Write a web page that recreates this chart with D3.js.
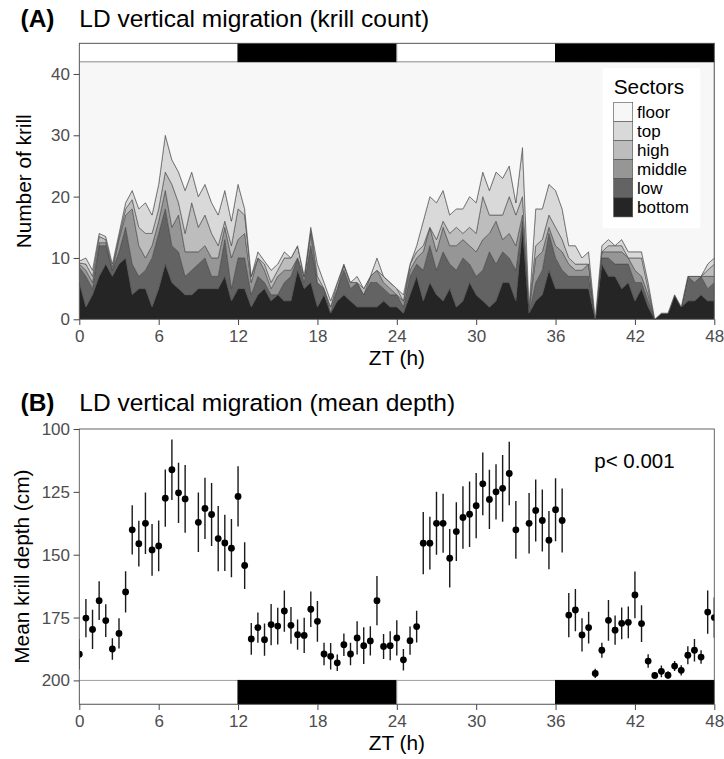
<!DOCTYPE html>
<html><head><meta charset="utf-8">
<script src="https://cdn.jsdelivr.net/npm/d3@7"></script>
<style>body{margin:0;background:#fff;} text{font-family:"Liberation Sans",Arial,Helvetica,sans-serif;}</style>
</head><body><svg id="c" width="724" height="759"></svg>
<script>
// ---------- Panel A data (krill count per sector, half-hourly) ----------
const hoursA = [0,0.5,1,1.5,2,2.5,3,3.5,4,4.5,5,5.5,6,6.5,7,7.5,8,8.5,9,9.5,10,10.5,11,11.5,12,12.5,13,13.5,14,14.5,15,15.5,16,16.5,17,17.5,18,18.5,19,19.5,20,20.5,21,21.5,22,22.5,23,23.5,24,24.5,25,25.5,26,26.5,27,27.5,28,28.5,29,29.5,30,30.5,31,31.5,32,32.5,33,33.5,34,34.5,35,35.5,36,36.5,37,37.5,38,38.5,39,39.5,40,40.5,41,41.5,42,42.5,43,43.5,44,44.5,45,45.5,46,46.5,47,47.5,48];
const sectorBottom = [6,2,4,7,9,7,9,10,4,5, 5,2,5,9,6,5,4,4,5,5, 5,5,7,3,5,5,2,4,5,3, 4,3,3,8,5,6,2,4,1,3, 4,3,2,2,2,2,3,2,2,1, 4,7,3,6,4,3,5,2,3,6, 4,3,2,3,6,6,3,15,1,3, 4,8,5,5,5,5,5,5,0,9, 7,7,5,6,3,5,2,0,1,1, 4,2,3,3,4,3,3];
const sectorLow    = [2.5,5,1,5,3,1,2,5,5,2, 3,8,9,9,6,6,3,4,4,5, 2,2,6,2,5,5,2,3,1,1, 0,3,4,2,1,6,4,1,0,2, 4,2,4,2,4,4,2,2,2,1, 3,2,5,6,4,8,4,6,7,3, 3,5,9,6,5,4,5,1,0,3, 4,6,5,3,2,2,2,2,0,1, 3,2,4,3,3,1,1,0,0,0, 0,0,4,3,3,2,3];
const sectorMiddle = [0.5,1,1,0.5,0.5,0,2,2,9,5, 2,2,2,3,3,6,4,3,2,2, 3,3,2,5,3,4,2,3,2,1, 3,2,1,0,1,2,0,0,1,0, 1,1,0,0,1,2,1,1,0,1, 1,1,3,3,3,4,3,4,3,3, 4,5,3,7,2,4,4,1,0.5,4, 3,1,2,3,2,1,1,2,0,1, 1,2,2,1,2,1,1,0,0,0, 0,0,0,1,0,2,1];
const sectorHigh   = [0.2,1,1,1,0.5,0.5,0.5,1,1.5,3, 4,2,2,3,7,2,3,8,4,5, 4,2,1,2,5,3,1,0,1,1, 1,2,2,2,0,1,1,0,0,1, 0,0,0,1,0,0,1,1,1,0, 1,1,1,0,2,1,2,3,1,3, 3,7,3,1,4,6,5,3,0.5,2, 2,2,3,2,1,1,1,0,0,0, 1,1,1,0,2,3,1,0,0,0, 0,0,0,0,0,1,2];
const sectorTop    = [0.3,1,1,0.5,0.5,0.5,0.5,1,1.5,3, 5,3,4,6,4,5,7,5,5,5, 5,5,5,4,4,1,0,1,0.5,2, 1,1,0,0,0,0,2,1,1,0, 0,0,1,0,0,2,0,0,0,1, 0,1,4,5,6,5,3,3,4,5, 5,4,4,7,6,5,2,8,0,6, 5,5,6,5,2,3,1,2,0,1, 1,0,1,1,1,1,1,0,0,0, 0,0,0,0,0,1,1];
const totalKrill = 42;
const sectorKeys   = ["bottom","low","middle","high","top","floor"];
const sectorLabels = ["floor","top","high","middle","low","bottom"];
const sectorColors = {floor:"#f7f7f7", top:"#d9d9d9", high:"#bdbdbd", middle:"#969696", low:"#636363", bottom:"#252525"};

// ---------- Panel B data (mean depth +- error) ----------
const hoursB = [0,0.5,1,1.5,2,2.5,3,3.5,4,4.5,5,5.5,6,6.5,7,7.5,8,9,9.5,10,10.5,11,11.5,12,12.5,13,13.5,14,14.5,15,15.5,16,16.5,17,17.5,18,18.5,19,19.5,20,20.5,21,21.5,22,22.5,23,23.5,24,24.5,25,25.5,26,26.5,27,27.5,28,28.5,29,29.5,30,30.5,31,31.5,32,32.5,33,34,34.5,35,35.5,36,36.5,37,37.5,38,38.5,39,39.5,40,40.5,41,41.5,42,42.5,43,43.5,44,44.5,45,45.5,46,46.5,47,47.5,48];
const depthMean = [189.6,175.2,179.7,168.3,176.2,187.5,181.3,164.8,140.1,145.6,137.5,148.1,146.5,127.5,116.2,125.4,127.8,137.1,131.6,134,143.6,145.3,147.4,126.8,154.3,183.5,179,183.8,177.8,178.4,172.4,178.1,181.8,182.1,171.7,176.5,189.5,190.4,193,185.8,189.5,183.1,186.2,184.3,168.3,186.5,186.2,183.1,191.8,184.2,178.6,145.4,145.4,137.5,137.5,151.4,140.8,135.2,133.9,130.5,121.8,128,125,123.6,117.7,140.1,137.5,132.4,136.4,144.2,132.1,136.4,174,172,181.9,179,197.2,188,176.1,180,177.3,176.9,166,177.4,192.3,198,196.4,197.9,194.3,196,190,188,190.7,172.8,175];
const depthErr  = [6,7.6,7.8,7.7,6.5,4.3,6,8.2,9.8,9.1,12.2,10.3,10.1,11.4,12,12,13.5,11.8,12.2,12.5,13,11.2,11.6,12,9.3,6.3,6,6.4,8.2,7.3,8.2,7.3,6,7,7.1,8.1,4.5,5.3,3.3,4.5,4.5,6.6,7.3,5.8,9.8,5,5.8,7,4.3,5.6,6.3,12.4,10.5,12.5,11.7,11.6,11.7,12.4,13,13,12.5,11.8,11,13.3,12.6,11.5,12,12.3,12.3,11.6,12.5,12.7,8.8,8.4,6.6,6.3,1.8,3,8.1,5.8,6.3,6.3,9.3,7.3,2.7,1.3,2.3,1.5,2,2,3.6,4.5,2.7,8.6,8];

// ---------- Light/dark schedule & ticks ----------
const phaseStart = [0,12,24,36];
const phaseEnd   = [12,24,36,48];
const phaseType  = ["light","dark","light","dark"];
const xTicks = [0,6,12,18,24,30,36,42,48];
const yTicksA = [0,10,20,30,40];
const yTicksB = [100,125,150,175,200];

(function(){
// ---------- Layout ----------
const svg = d3.select("#c");
const PL = 79.3, PR = 714.3;
const A = {top:43.3, bottom:319.3};
const B = {top:429, bottom:704.3};
const xA = d3.scaleLinear().domain([0,48]).range([PL,PR]);
const yA = d3.scaleLinear().domain([0,45]).range([A.bottom,A.top]);
const xB = d3.scaleLinear().domain([0,48]).range([PL,PR]);
const yB = d3.scaleLinear().domain([100,209.5]).range([B.top,B.bottom]);
const labelGrey = "#4d4d4d";

const defs = svg.append("defs");
defs.append("clipPath").attr("id","clipA").append("rect")
  .attr("x",PL).attr("y",A.top).attr("width",PR-PL).attr("height",A.bottom-A.top);
defs.append("clipPath").attr("id","clipB").append("rect")
  .attr("x",PL).attr("y",B.top).attr("width",PR-PL).attr("height",B.bottom-B.top);

// ---------- Panel A ----------
const rows = hoursA.map((h,i)=>{
  const s = sectorBottom[i]+sectorLow[i]+sectorMiddle[i]+sectorHigh[i]+sectorTop[i];
  return {h, bottom:sectorBottom[i], low:sectorLow[i], middle:sectorMiddle[i], high:sectorHigh[i], top:sectorTop[i], floor: totalKrill - s};
});
const series = d3.stack().keys(sectorKeys)(rows);
const area = d3.area().x(d=>xA(d.data.h)).y0(d=>yA(d[0])).y1(d=>yA(d[1]));
const gA = svg.append("g").attr("clip-path","url(#clipA)");
gA.selectAll("path.layer").data(series).join("path")
  .attr("class","layer")
  .attr("d",area)
  .attr("fill",d=>sectorColors[d.key])
  .attr("stroke","#4a4a4a").attr("stroke-width",0.6).attr("stroke-linejoin","round");

gA.selectAll("rect.ld").data(phaseStart).join("rect")
  .attr("class","ld")
  .attr("x",(d)=>xA(d)).attr("width",(d,i)=>xA(phaseEnd[i])-xA(d))
  .attr("y",yA(45)).attr("height",yA(totalKrill)-yA(45))
  .attr("fill",(d,i)=>phaseType[i]==="light"?"#ffffff":"#000000")
  .attr("stroke",(d,i)=>phaseType[i]==="light"?"#a0a0a0":"#000000").attr("stroke-width",1);

svg.append("rect").attr("x",PL).attr("y",A.top).attr("width",PR-PL).attr("height",A.bottom-A.top)
  .attr("fill","none").attr("stroke","#555").attr("stroke-width",0.9);

function styleAxis(g){
  g.select(".domain").remove();
  g.selectAll(".tick line").attr("stroke","#444").attr("stroke-width",1);
  g.selectAll(".tick text").attr("fill",labelGrey).style("font-size","17px")
    .style("font-family","'Liberation Sans',Arial,sans-serif");
}
svg.append("g").attr("transform",`translate(0,${A.bottom})`)
  .call(d3.axisBottom(xA).tickValues(xTicks).tickSize(5.7).tickPadding(5.1)).call(styleAxis);
svg.append("g").attr("transform",`translate(${PL},0)`)
  .call(d3.axisLeft(yA).tickValues(yTicksA).tickSize(5.7).tickPadding(3.6)).call(styleAxis);

const lg = svg.append("g");
lg.append("rect").attr("x",602.7).attr("y",68.3).attr("width",97.6).attr("height",160).attr("fill","#ffffff");
lg.append("text").attr("x",613.7).attr("y",94.3).text("Sectors").style("font-size","20.8px").attr("fill","#000");
sectorLabels.forEach((k,i)=>{
  lg.append("rect").attr("x",613.7).attr("y",102.3+i*19.1).attr("width",19).attr("height",19.1)
    .attr("fill",sectorColors[k]).attr("stroke","#4a4a4a").attr("stroke-width",0.6);
  lg.append("text").attr("x",637).attr("y",102.3+i*19.1+9.55).attr("dy","0.36em")
    .text(k).style("font-size","17px").attr("fill","#000");
});

svg.append("text").attr("x",20.5).attr("y",26.8).text("(A)").style("font-size","24.5px").style("font-weight","bold");
svg.append("text").attr("x",79.3).attr("y",26.8).text("LD vertical migration (krill count)").style("font-size","24.5px");
svg.append("text").attr("x",(PL+PR)/2).attr("y",365).attr("text-anchor","middle").text("ZT (h)").style("font-size","20.8px");
svg.append("text").attr("transform",`translate(30.5,${(A.top+A.bottom)/2}) rotate(-90)`).attr("text-anchor","middle")
  .text("Number of krill").style("font-size","20.8px");

// ---------- Panel B ----------
const gB = svg.append("g").attr("clip-path","url(#clipB)");
gB.selectAll("rect.ld").data(phaseStart).join("rect")
  .attr("class","ld")
  .attr("x",(d)=>xB(d)).attr("width",(d,i)=>xB(phaseEnd[i])-xB(d))
  .attr("y",yB(200)).attr("height",yB(209.5)-yB(200))
  .attr("fill",(d,i)=>phaseType[i]==="light"?"#ffffff":"#000000")
  .attr("stroke",(d,i)=>phaseType[i]==="light"?"#a0a0a0":"#000000").attr("stroke-width",1);
gB.selectAll("line.err").data(hoursB).join("line")
  .attr("class","err")
  .attr("x1",d=>xB(d)).attr("x2",d=>xB(d))
  .attr("y1",(d,i)=>yB(depthMean[i]-depthErr[i])).attr("y2",(d,i)=>yB(depthMean[i]+depthErr[i]))
  .attr("stroke","#1a1a1a").attr("stroke-width",1.4);
gB.selectAll("circle.pt").data(hoursB).join("circle")
  .attr("class","pt")
  .attr("cx",d=>xB(d)).attr("cy",(d,i)=>yB(depthMean[i])).attr("r",3.4).attr("fill","#000");

svg.append("rect").attr("x",PL).attr("y",B.top).attr("width",PR-PL).attr("height",B.bottom-B.top)
  .attr("fill","none").attr("stroke","#555").attr("stroke-width",0.9);
svg.append("g").attr("transform",`translate(0,${B.bottom})`)
  .call(d3.axisBottom(xB).tickValues(xTicks).tickSize(5.7).tickPadding(5.1)).call(styleAxis);
svg.append("g").attr("transform",`translate(${PL},0)`)
  .call(d3.axisLeft(yB).tickValues(yTicksB).tickSize(5.7).tickPadding(3.6)).call(styleAxis);

svg.append("text").attr("x",594.3).attr("y",467.7).text("p< 0.001").style("font-size","20.5px");
svg.append("text").attr("x",20.5).attr("y",410.5).text("(B)").style("font-size","24.5px").style("font-weight","bold");
svg.append("text").attr("x",79.3).attr("y",410.5).text("LD vertical migration (mean depth)").style("font-size","24.5px");
svg.append("text").attr("x",(PL+PR)/2).attr("y",750).attr("text-anchor","middle").text("ZT (h)").style("font-size","20.8px");
svg.append("text").attr("transform",`translate(28.5,${(B.top+B.bottom)/2}) rotate(-90)`).attr("text-anchor","middle")
  .text("Mean krill depth (cm)").style("font-size","20.8px");
})();
</script></body></html>
